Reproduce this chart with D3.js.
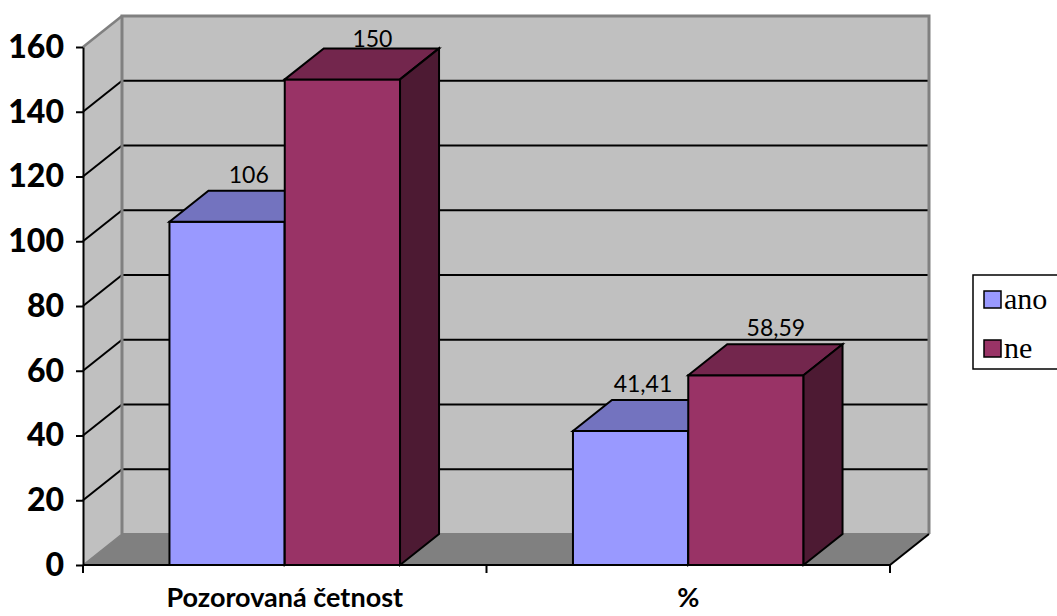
<!DOCTYPE html>
<html>
<head>
<meta charset="utf-8">
<script src="https://cdn.jsdelivr.net/npm/d3@7"></script>
<style>
  body { margin: 0; background: #fff; }
  svg { display: block; }
</style>
</head>
<body>
<svg id="chart" width="1057" height="616"></svg>
<script>
// Data
const categories = ["Pozorovaná četnost", "%"];
const seriesNames = ["ano", "ne"];
const anoValues = [106, 41.41];
const neValues = [150, 58.59];
const yTicks = [0, 20, 40, 60, 80, 100, 120, 140, 160];

const seriesValues = [anoValues, neValues];
const frontColors = { ano: "#9999FF", ne: "#993366" };
const topColors = { ano: "#7373BF", ne: "#73264D" };
const sideColors = { ano: "#4D4D80", ne: "#4D1A33" };

// Czech number formatting (decimal comma)
const cz = d3.formatLocale({ decimal: ",", thousands: "\u00a0", grouping: [3], currency: ["", " Kč"] });
const fmt = cz.format(".2~f");

// Plot frame (front plane) and depth offset of the 3D box
const plotLeft = 83, plotRight = 890, plotTop = 47, plotBottom = 565;
const dx = 39, dy = 31;

const svg = d3.select("#chart");

const y = d3.scaleLinear().domain([0, 160]).range([plotBottom, plotTop]);
const x0 = d3.scaleBand().domain(categories).range([plotLeft, plotRight]).padding(0);
const x1 = d3.scaleBand().domain(seriesNames).range([0, x0.bandwidth()])
  .paddingInner(0).paddingOuter(0.75);

const pts = a => a.map(p => p.join(",")).join(" ");

// Walls and floor
const yMax = y(160), y0 = y(0);
svg.append("polygon")
  .attr("points", pts([[plotLeft, yMax], [plotLeft + dx, yMax - dy], [plotLeft + dx, y0 - dy], [plotLeft, y0]]))
  .attr("fill", "#C0C0C0");
svg.append("rect")
  .attr("x", plotLeft + dx).attr("y", yMax - dy)
  .attr("width", plotRight - plotLeft).attr("height", y0 - yMax)
  .attr("fill", "#C0C0C0");
svg.append("polygon")
  .attr("points", pts([[plotLeft, y0], [plotLeft + dx, y0 - dy], [plotRight + dx, y0 - dy], [plotRight, y0]]))
  .attr("fill", "#808080");

// Gridlines on back and side walls
const grid = svg.append("g").attr("stroke", "#000").attr("stroke-width", 2);
yTicks.filter(t => t > 0 && t < 160).forEach(t => {
  const yy = y(t);
  grid.append("line")
    .attr("x1", plotLeft + dx).attr("x2", plotRight + dx)
    .attr("y1", yy - dy).attr("y2", yy - dy);
  grid.append("line")
    .attr("x1", plotLeft).attr("x2", plotLeft + dx)
    .attr("y1", yy).attr("y2", yy - dy);
});

// Wall borders
const wallEdge = svg.append("g").attr("stroke", "#808080").attr("fill", "none");
wallEdge.append("polyline")
  .attr("points", pts([[plotLeft + dx, y0 - dy], [plotLeft + dx, yMax - dy], [plotRight + dx, yMax - dy], [plotRight + dx, y0 - dy]]))
  .attr("stroke-width", 3);
wallEdge.append("line")
  .attr("x1", plotLeft).attr("y1", yMax).attr("x2", plotLeft + dx).attr("y2", yMax - dy)
  .attr("stroke-width", 2.5);
wallEdge.append("line")
  .attr("x1", plotLeft).attr("y1", y0).attr("x2", plotLeft + dx).attr("y2", y0 - dy)
  .attr("stroke-width", 1.5);
wallEdge.append("line")
  .attr("x1", plotLeft + dx).attr("y1", y0 - dy).attr("x2", plotRight + dx).attr("y2", y0 - dy)
  .attr("stroke-width", 2);
svg.append("line")
  .attr("x1", plotRight).attr("y1", y0).attr("x2", plotRight + dx).attr("y2", y0 - dy)
  .attr("stroke", "#000").attr("stroke-width", 2);

// 3D bars, drawn left to right so each bar hides the side of the previous one
const bars = svg.append("g").attr("stroke", "#000").attr("stroke-width", 2)
  .attr("stroke-linejoin", "miter");
const barList = [];
categories.forEach((c, ci) => {
  seriesNames.forEach((s, si) => {
    const v = seriesValues[si][ci];
    const bx = x0(c) + x1(s);
    const w = x1.bandwidth();
    const yt = y(v);
    barList.push({ c, ci, s, si, v, bx, w, yt });
    const g = bars.append("g");
    g.append("rect")
      .attr("x", bx).attr("y", yt).attr("width", w).attr("height", y0 - yt)
      .attr("fill", frontColors[s]);
    g.append("polygon")
      .attr("points", pts([[bx, yt], [bx + dx, yt - dy], [bx + w + dx, yt - dy], [bx + w, yt]]))
      .attr("fill", topColors[s]);
    g.append("polygon")
      .attr("points", pts([[bx + w, yt], [bx + w + dx, yt - dy], [bx + w + dx, y0 - dy], [bx + w, y0]]))
      .attr("fill", sideColors[s]);
  });
});

// Value labels
const labelG = svg.append("g")
  .attr("font-family", "Lato, 'Open Sans', sans-serif")
  .attr("font-size", 23)
  .attr("fill", "#000");
barList.forEach(b => {
  const t = labelG.append("text").text(fmt(b.v)).attr("text-anchor", "middle");
  const tw = t.node().getComputedTextLength();
  let cx = b.bx + b.w / 2 + 30;
  const next = barList.find(o => o.ci === b.ci && o.si === b.si + 1);
  if (next && cx + tw / 2 > next.bx - 16) cx = next.bx - 16 - tw / 2;
  const by = Math.max(b.yt - dy - 8, y(160));
  t.attr("x", cx).attr("y", by);
});

// Y axis
const yAxis = svg.append("g")
  .attr("transform", `translate(${plotLeft},0)`)
  .call(d3.axisLeft(y).tickValues(yTicks).tickSize(7).tickSizeOuter(0).tickPadding(12));
yAxis.select(".domain").attr("stroke", "#000").attr("stroke-width", 2);
yAxis.selectAll(".tick line").attr("stroke", "#000").attr("stroke-width", 2);
yAxis.selectAll(".tick text")
  .attr("font-family", "Lato, 'Open Sans', sans-serif")
  .attr("font-weight", 900)
  .attr("font-size", 32)
  .attr("fill", "#000");

// X axis: baseline, boundary ticks and category labels
const xAxis = svg.append("g");
xAxis.append("line")
  .attr("x1", plotLeft).attr("x2", plotRight).attr("y1", y0).attr("y2", y0)
  .attr("stroke", "#000").attr("stroke-width", 2);
const bounds = categories.map(c => x0(c)).concat([x0(categories[categories.length - 1]) + x0.bandwidth()]);
xAxis.selectAll("line.tick").data(bounds).join("line")
  .attr("class", "tick")
  .attr("x1", d => d).attr("x2", d => d)
  .attr("y1", y0).attr("y2", y0 + 8)
  .attr("stroke", "#000").attr("stroke-width", 2);
xAxis.selectAll("text").data(categories).join("text")
  .attr("x", d => x0(d) + x0.bandwidth() / 2)
  .attr("y", 607)
  .attr("text-anchor", "middle")
  .attr("font-family", "Lato, 'Open Sans', sans-serif")
  .attr("font-weight", "bold")
  .attr("font-size", 27)
  .text(d => d);

// Legend
const legend = svg.append("g");
legend.append("rect")
  .attr("x", 973).attr("y", 275).attr("width", 100).attr("height", 94)
  .attr("fill", "#fff").attr("stroke", "#000").attr("stroke-width", 1.5);
const legendItems = legend.selectAll("g.item").data(seriesNames).join("g")
  .attr("class", "item")
  .attr("transform", (d, i) => `translate(984,${291 + i * 49})`);
legendItems.append("rect")
  .attr("width", 17).attr("height", 17)
  .attr("fill", d => frontColors[d])
  .attr("stroke", "#000").attr("stroke-width", 1.5);
legendItems.append("text")
  .attr("x", 20).attr("y", 18)
  .attr("font-family", "'Liberation Serif', 'Times New Roman', serif")
  .attr("font-size", 30)
  .text(d => d);
</script>
</body>
</html>
